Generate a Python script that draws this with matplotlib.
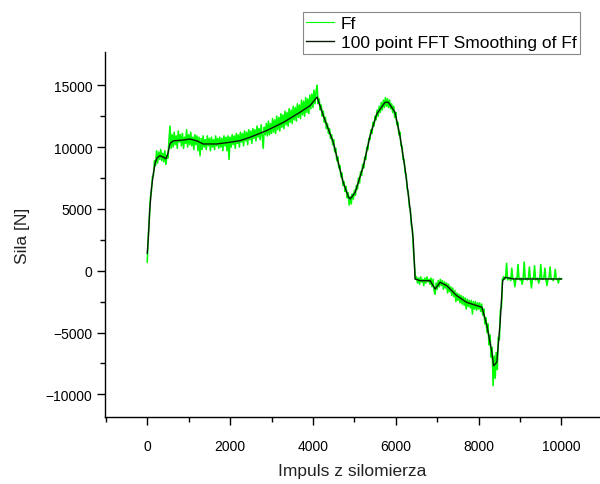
import numpy as np
import matplotlib
matplotlib.use("Agg")
import matplotlib.pyplot as plt

plt.rcParams['font.family'] = ['Liberation Sans', 'DejaVu Sans']

# raw force signal Ff, one value every 25 impulses, 8 values per row
ff = [
    700, 2800, 4200, 5900, 6400, 7600, 7700, 8900,              # 0
    8500, 9700, 8700, 9600, 9000, 9800, 8900, 9500,             # 200
    8800, 9700, 8600, 9300, 9100, 10600, 11700, 9900,           # 400
    11000, 10000, 11200, 10200, 10900, 9900, 11300, 10400,      # 600
    11000, 10100, 11100, 9900, 10800, 10300, 11400, 10000,      # 800
    11000, 10200, 11200, 10100, 10800, 9800, 11000, 10200,      # 1000
    10900, 9700, 10800, 9300, 10700, 9800, 10900, 10000,        # 1200
    10600, 9800, 10900, 10100, 10700, 9700, 10800, 10000,       # 1400
    10600, 9800, 10900, 10100, 10700, 9900, 10800, 10000,       # 1600
    10700, 9700, 10900, 10100, 10800, 9700, 10900, 9000,        # 1800
    10800, 10000, 11000, 10200, 10900, 9900, 11100, 10300,      # 2000
    11000, 10000, 11200, 10400, 11100, 10100, 11300, 10500,     # 2200
    11200, 10200, 11400, 10600, 11300, 10300, 11500, 10700,     # 2400
    11400, 10500, 11700, 10800, 11500, 10600, 11800, 10900,     # 2600
    9900, 11600, 11000, 11900, 10900, 12100, 11000, 11900,      # 2800
    11100, 12300, 11200, 12200, 11100, 12500, 11400, 12400,     # 3000
    11300, 12700, 11600, 12600, 11500, 12900, 11800, 12800,     # 3200
    11700, 13100, 12000, 13000, 11900, 13300, 12200, 13200,     # 3400
    12100, 13500, 12400, 13400, 12300, 13800, 12600, 13700,     # 3600
    12500, 14000, 12800, 13900, 12700, 14200, 13100, 14300,     # 3800
    13200, 14600, 13500, 14500, 15000, 13500, 13900, 13000,     # 4000
    13400, 12500, 12900, 12000, 12400, 11500, 11900, 11100,     # 4200
    11500, 10700, 11000, 10200, 10600, 9600, 9900, 8900,        # 4400
    9200, 8300, 8500, 7600, 7900, 6900, 7200, 6400,             # 4600
    6800, 5900, 6300, 5300, 6000, 5400, 6200, 5800,             # 4800
    6500, 6100, 6900, 6600, 7500, 7100, 8000, 7700,             # 5000
    8600, 8300, 9200, 9000, 10000, 9800, 10700, 10600,          # 5200
    11400, 11100, 12000, 11700, 12500, 12200, 13000, 12500,     # 5400
    13300, 12800, 13600, 13000, 13800, 13200, 14000, 13300,     # 5600
    13900, 13200, 13800, 13100, 13500, 12800, 13300, 12400,     # 5800
    12800, 11800, 12000, 11000, 11200, 10100, 10100, 9000,      # 6000
    9000, 7900, 7800, 6600, 6400, 5200, 5000, 3700,             # 6200
    3400, 1700, 600, -700, -500, -1000, -600, -1100,            # 6400
    -500, -900, -700, -1200, -600, -1000, -500, -900,           # 6600
    -700, -1100, -600, -1300, -700, -1600, -1900, -1000,        # 6800
    -1500, -800, -1300, -700, -1200, -800, -1500, -900,         # 7000
    -1400, -1000, -1800, -1100, -1700, -1300, -2000, -1400,     # 7200
    -2100, -1600, -2500, -1800, -2400, -1900, -2600, -2000,     # 7400
    -2700, -2100, -2800, -2200, -3100, -2300, -2900, -2400,     # 7600
    -3000, -2400, -3500, -2500, -3100, -2500, -3200, -2600,     # 7800
    -3100, -2600, -3300, -2700, -3600, -3100, -4300, -3800,     # 8000
    -5000, -4300, -6000, -5200, -7000, -6200, -9300, -6900,     # 8200
    -8700, -6600, -8000, -5400, -5600, -3200, -3000, -700,      # 8400
    -500, -700, -600, 600, -750, -650, -550, -800,              # 8600
    200, -650, -700, -1300, -600, -700, 500, -650,              # 8800
    -750, -600, -1100, -650, 700, -700, -600, -750,             # 9000
    -650, 300, -700, -1400, -600, -650, 400, -750,              # 9200
    -650, -600, -1000, -700, 500, -650, -700, -600,             # 9400
    200, -750, -1200, -650, -600, 300, -700, -650,              # 9600
    -800, -600, 100, -700, -650, -1000, -600, -700,             # 9800
    -650,                                                       # 10000
]
ff_x = np.arange(len(ff)) * 25

# 100 point FFT smoothing of Ff
sm_x = [0, 25, 60, 100, 145, 190, 230, 300, 380, 450, 500, 550, 630, 870,
        1030, 1200, 1350, 1680, 2000, 2240, 2480, 2880, 3290, 3690, 3930,
        4100, 4250, 4490, 4730, 4860, 4900, 5020, 5220, 5380, 5540, 5740,
        5820, 5980, 6100, 6225, 6345, 6420, 6466, 6590, 6830, 6950, 7070,
        7230, 7470, 7710, 7960, 8080, 8200, 8320, 8360, 8440, 8520, 8580,
        8640, 8840, 10000]
sm_y = [1400, 2600, 4900, 6600, 7800, 8700, 9100, 9300, 9200, 9050, 9500,
        10300, 10500, 10570, 10650, 10500, 10250, 10250, 10390, 10520, 10790,
        11330, 12000, 12820, 13350, 14050, 12540, 10390, 7150, 5940, 5800,
        6340, 8490, 10920, 12680, 13620, 13620, 12820, 10920, 8230, 4990,
        2560, -670, -810, -810, -1480, -940, -1210, -2020, -2560, -2830,
        -2960, -4450, -6600, -7690, -7400, -4170, -810, -540, -670, -670]

fig = plt.figure(figsize=(6, 4.85), dpi=100)
ax = fig.add_axes([0.175, 0.138, 0.825, 0.753])

ax.plot(ff_x, ff, color='#00ff00', lw=1.15, label='Ff')
ax.plot(sm_x, sm_y, color='#0a1a0a', lw=1.0, label='100 point FFT Smoothing of Ff')

ax.set_xlim(-1020, 10930)
ax.set_ylim(-11840, 17700)
ax.set_xticks([0, 2000, 4000, 6000, 8000, 10000])
ax.set_xticks(np.arange(-1000, 11000, 1000), minor=True)
ax.set_yticks([-10000, -5000, 0, 5000, 10000, 15000])
ax.set_yticks(np.arange(-10000, 17500, 2500), minor=True)

for s in ['top', 'right']:
    ax.spines[s].set_visible(False)
for s in ['left', 'bottom']:
    ax.spines[s].set_linewidth(1.0)

ax.tick_params(which='major', direction='out', length=6, width=1, labelsize=10)
ax.tick_params(which='minor', direction='out', length=3.5, width=1)
ax.tick_params(axis='x', which='major', pad=10)
ax.tick_params(axis='y', which='major', pad=3)

ax.set_xlabel('Impuls z silomierza', fontsize=12.5, labelpad=7, color='#222222')
ax.set_ylabel('Sila [N]', fontsize=12.5, labelpad=11, color='#222222')

leg = ax.legend(loc='upper right', bbox_to_anchor=(580 / 600, 1 - 13 / 485),
                bbox_transform=fig.transFigure, fontsize=12.5, frameon=True,
                fancybox=False, framealpha=1, edgecolor='#888888',
                handlelength=1.6, handletextpad=0.4, labelspacing=0.25,
                borderpad=0.2, borderaxespad=0)
leg.get_frame().set_linewidth(0.8)
leg.get_lines()[0].set_linewidth(0.8)

fig.savefig('out.png', dpi=100)
